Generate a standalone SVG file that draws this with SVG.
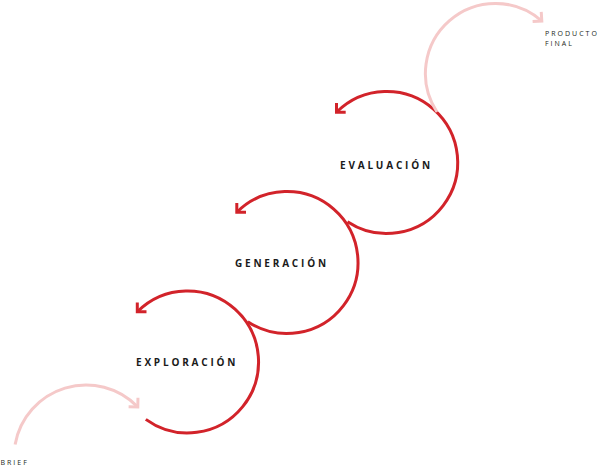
<svg xmlns="http://www.w3.org/2000/svg" width="600" height="468" viewBox="0 0 600 468">
<style>
.red{fill:none;stroke:#d2232a;stroke-width:3;}
.pink{fill:none;stroke:#f5c9c9;stroke-width:3;}
.lbl{font-family:"Open Sans","Liberation Sans",sans-serif;font-weight:bold;font-size:10px;letter-spacing:2.8px;fill:#1a1a1a;}
.sm{font-family:"Open Sans","Liberation Sans",sans-serif;font-size:7px;letter-spacing:2px;fill:#231f20;}
</style>
<defs>
<marker id="ar" markerUnits="userSpaceOnUse" viewBox="-12 -12 24 24" markerWidth="24" markerHeight="24" refX="0" refY="0" orient="auto">
<path d="M-6.5,-6.5 L0,0 L-6.5,6.5" fill="none" stroke="#d2232a" stroke-width="3"/>
</marker>
<marker id="ap" markerUnits="userSpaceOnUse" viewBox="-12 -12 24 24" markerWidth="24" markerHeight="24" refX="0" refY="0" orient="auto">
<path d="M-6.5,-6.5 L0,0 L-6.5,6.5" fill="none" stroke="#f5c9c9" stroke-width="3"/>
</marker>
</defs>
<g id="connectors">
<path class="pink" d="M15.1,444.5 A72,72 0 0 1 137.8,407" marker-end="url(#ap)"/>
<path class="red" d="M145.8,419.4 A71,71 0 1 0 137.3,311.8" marker-end="url(#ar)"/>
<path class="red" d="M247.8,321.7 A71,71 0 1 0 236.8,212.3" marker-end="url(#ar)"/>
<path class="red" d="M347.5,221.7 A71,71 0 1 0 336.5,112.3" marker-end="url(#ar)"/>
<path class="pink" d="M437,112 A70,70 0 0 1 541.8,21" marker-end="url(#ap)"/>
</g>
<g id="brief"><text class="sm" x="0.5" y="465">BRIEF</text></g>
<g id="exploracion"><text class="lbl" x="136" y="366">EXPLORACIÓN</text></g>
<g id="generacion"><text class="lbl" x="235" y="267">GENERACIÓN</text></g>
<g id="evaluacion"><text class="lbl" x="340" y="169">EVALUACIÓN</text></g>
<g id="producto-final"><text class="sm" x="545" y="36">PRODUCTO</text><text class="sm" x="545" y="46">FINAL</text></g>
</svg>
